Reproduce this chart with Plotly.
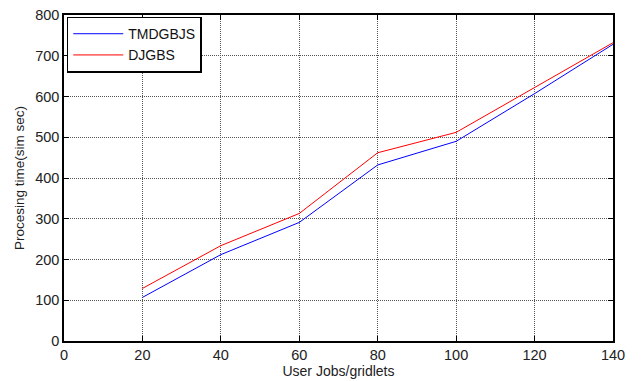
import plotly.graph_objects as go

jobs = [20, 40, 60, 80, 100, 120, 140]
tmdgbjs = [107, 212, 291, 432, 490, 607, 728]
djgbs = [129, 234, 313, 462, 512, 621, 732]

fig = go.Figure()
fig.add_trace(go.Scatter(x=jobs, y=tmdgbjs, mode="lines", name="TMDGBJS",
                         line=dict(color="#0000ff", width=1)))
fig.add_trace(go.Scatter(x=jobs, y=djgbs, mode="lines", name="DJGBS",
                         line=dict(color="#ff0000", width=1)))

axis_common = dict(
    showline=True, linecolor="black", linewidth=1.5, mirror="ticks",
    ticks="inside", ticklen=5, tickcolor="black",
    showgrid=True, gridcolor="#555555", griddash="1px,1px", gridwidth=1,
    zeroline=False, automargin=False,
    tickfont=dict(family="Liberation Sans, Arial", size=14.5, color="#222222"),
)

fig.update_layout(
    template="none",
    width=642, height=381,
    margin=dict(l=64, r=29, t=15, b=40),
    paper_bgcolor="white", plot_bgcolor="white",
    font=dict(family="Liberation Sans, Arial", color="#222222", size=13),
    xaxis=dict(range=[0, 140], tickvals=[0, 20, 40, 60, 80, 100, 120, 140],
               title=dict(text="User Jobs/gridlets", standoff=2, font=dict(size=14)),
               **axis_common),
    yaxis=dict(range=[0, 800], tickvals=[0, 100, 200, 300, 400, 500, 600, 700, 800],
               title=dict(text="Procesing time(sim sec)", standoff=7, font=dict(size=13.5)),
               **axis_common),
    legend=dict(x=0.005, y=0.995, xanchor="left", yanchor="top",
                bgcolor="white", bordercolor="black", borderwidth=1.5,
                font=dict(size=14, color="#111111"), itemwidth=50, tracegroupgap=2),
    showlegend=True,
)

fig.write_html("out.html")
